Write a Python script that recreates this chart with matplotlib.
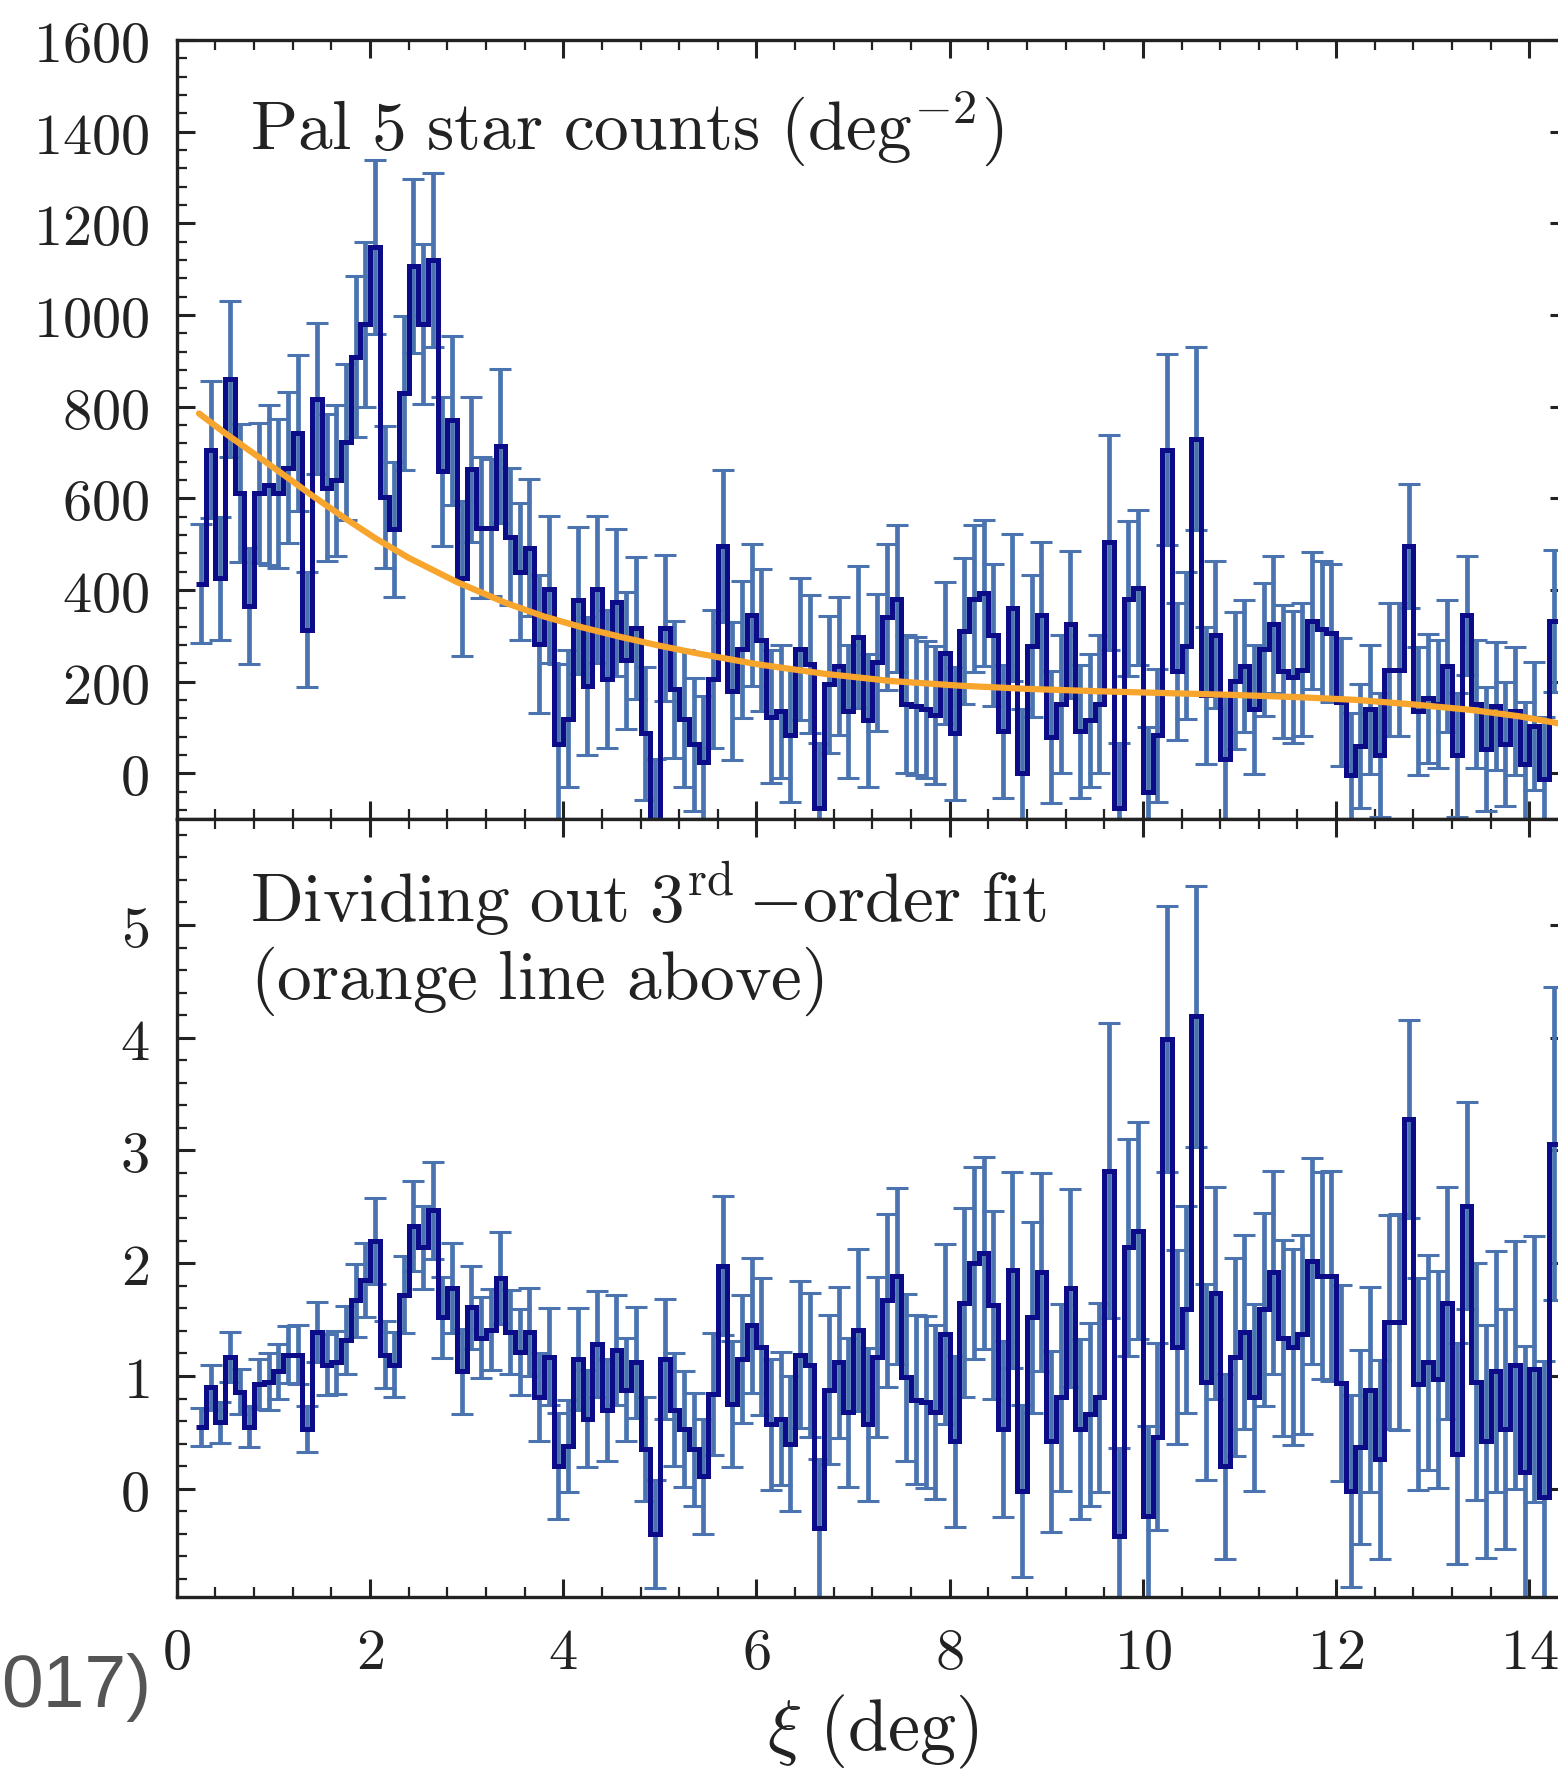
import numpy as np
import matplotlib
matplotlib.use('Agg')
import matplotlib.pyplot as plt
from matplotlib.ticker import MultipleLocator, FuncFormatter

plt.rcParams['mathtext.fontset'] = 'cm'
plt.rcParams['font.family'] = 'serif'
plt.rcParams['font.serif'] = ['DejaVu Serif']

# bins of 0.1 deg starting at xi = 0.2
bin_lo = 0.2
bin_width = 0.1

# Pal 5 star counts per bin (deg^-2)
counts = [413, 706, 425, 861, 611, 365, 611, 629, 611, 667,
          742, 313, 817, 623, 639, 722, 909, 980, 1149, 603,
          532, 829, 1107, 980, 1119, 659, 770, 425, 663, 536,
          536, 714, 516, 440, 492, 282, 401, 63, 119, 377,
          190, 401, 206, 373, 246, 317, 87, -120, 317, 183,
          119, 63, 24, 206, 496, 179, 270, 345, 290, 123,
          135, 83, 270, 238, -75, 194, 234, 135, 298, 115,
          242, 341, 381, 151, 147, 139, 127, 262, 87, 310,
          381, 393, 302, 91, 361, 0, 278, 345, 79, 151,
          325, 91, 115, 151, 504, -75, 381, 405, -40, 83,
          706, 222, 278, 730, 170, 302, 32, 202, 234, 139,
          270, 325, 222, 210, 226, 333, 314, 306, 155, -4,
          60, 139, 40, 226, 226, 496, 135, 163, 151, 234,
          40, 345, 151, 52, 147, 63, 135, 20, 103, -12,
          333]
counts_err = [130, 150, 135, 170, 150, 127, 153, 175, 163, 165,
              170, 125, 165, 160, 165, 170, 175, 180, 190, 155,
              147, 168, 190, 175, 190, 163, 185, 170, 158, 153,
              150, 167, 150, 150, 150, 150, 160, 175, 150, 160,
              150, 160, 150, 160, 150, 155, 145, 150, 160, 150,
              150, 145, 145, 150, 165, 150, 150, 155, 155, 145,
              145, 145, 155, 150, 140, 150, 150, 145, 155, 145,
              150, 160, 160, 150, 150, 150, 150, 155, 145, 160,
              160, 160, 155, 145, 160, 140, 155, 160, 145, 150,
              160, 145, 145, 150, 235, 140, 170, 170, 140, 145,
              208, 150, 160, 200, 150, 160, 140, 150, 145, 140,
              145, 150, 145, 145, 145, 150, 150, 150, 140, 135,
              135, 140, 135, 145, 145, 135, 140, 140, 140, 145,
              135, 130, 140, 135, 140, 135, 140, 135, 140, 135,
              155]

# counts divided by the 3rd-order fit
ratio = [0.55, 0.90, 0.59, 1.17, 0.86, 0.55, 0.93, 0.95, 1.04, 1.19,
         1.19, 0.53, 1.39, 1.10, 1.12, 1.32, 1.67, 1.85, 2.20, 1.19,
         1.10, 1.72, 2.33, 2.14, 2.47, 1.52, 1.78, 1.04, 1.61, 1.34,
         1.41, 1.87, 1.39, 1.21, 1.39, 0.81, 1.17, 0.20, 0.38, 1.15,
         0.62, 1.28, 0.70, 1.23, 0.88, 1.12, 0.35, -0.40, 1.15, 0.70,
         0.53, 0.35, 0.11, 0.84, 1.98, 0.75, 1.15, 1.45, 1.26, 0.57,
         0.62, 0.40, 1.19, 1.10, -0.35, 0.88, 1.12, 0.68, 1.41, 0.57,
         1.17, 1.67, 1.89, 0.99, 0.79, 0.77, 0.68, 1.37, 0.42, 1.65,
         2.00, 2.09, 1.63, 0.53, 1.94, -0.02, 1.52, 1.92, 0.42, 0.81,
         1.78, 0.53, 0.66, 0.81, 2.82, -0.42, 2.14, 2.29, -0.24, 0.46,
         3.99, 1.26, 1.59, 4.19, 0.95, 1.74, 0.20, 1.17, 1.39, 0.81,
         1.59, 1.92, 1.34, 1.26, 1.37, 2.02, 1.89, 1.89, 0.94, -0.02,
         0.37, 0.88, 0.26, 1.48, 1.48, 3.28, 0.93, 1.12, 0.97, 1.65,
         0.31, 2.51, 0.95, 0.42, 1.04, 0.53, 1.10, 0.15, 1.06, -0.07,
         3.06]
ratio_err = [0.17, 0.20, 0.18, 0.22, 0.20, 0.18, 0.22, 0.25, 0.24, 0.25,
             0.26, 0.20, 0.27, 0.27, 0.28, 0.30, 0.32, 0.33, 0.38, 0.30,
             0.29, 0.34, 0.40, 0.37, 0.43, 0.36, 0.40, 0.38, 0.37, 0.36,
             0.36, 0.41, 0.37, 0.38, 0.39, 0.39, 0.43, 0.47, 0.41, 0.45,
             0.43, 0.47, 0.45, 0.49, 0.46, 0.49, 0.46, 0.48, 0.53, 0.50,
             0.51, 0.50, 0.51, 0.54, 0.62, 0.56, 0.57, 0.60, 0.61, 0.58,
             0.59, 0.60, 0.65, 0.64, 0.61, 0.66, 0.67, 0.66, 0.72, 0.68,
             0.71, 0.77, 0.78, 0.74, 0.75, 0.76, 0.77, 0.80, 0.76, 0.84,
             0.85, 0.85, 0.83, 0.78, 0.87, 0.76, 0.85, 0.88, 0.80, 0.83,
             0.88, 0.80, 0.81, 0.84, 1.31, 0.78, 0.96, 0.96, 0.80, 0.83,
             1.18, 0.86, 0.92, 1.16, 0.87, 0.94, 0.82, 0.88, 0.86, 0.83,
             0.86, 0.90, 0.87, 0.87, 0.88, 0.91, 0.92, 0.93, 0.87, 0.85,
             0.86, 0.91, 0.88, 0.95, 0.96, 0.88, 0.94, 0.95, 0.96, 1.03,
             0.98, 0.92, 1.05, 1.03, 1.07, 1.06, 1.10, 1.12, 1.18, 1.20,
             1.39]

# orange 3rd-order fit line
fit_xi = [0.23, 0.5, 0.8, 1.1, 1.4, 1.75, 2.06, 2.4, 2.9, 3.4, 3.8, 4.2,
          4.6, 5.0, 5.4, 6.0, 6.7, 7.4, 8.1, 8.8, 9.5, 10.2, 10.9, 11.6,
          12.2, 12.8, 13.4, 13.9, 14.4]
fit_counts = [785, 742, 697, 652, 606, 555, 512, 470, 417, 372, 342, 318,
              297, 278, 261, 238, 217, 201, 191, 184, 179, 175, 171, 166,
              160, 150, 138, 124, 105]

n = len(counts)
assert len(counts_err) == n and len(ratio) == n and len(ratio_err) == n
edges = bin_lo + bin_width * np.arange(n + 1)
centers = edges[:-1] + bin_width / 2

W, H = 1558, 1773
fig = plt.figure(figsize=(W / 100, H / 100), dpi=100)


def box(x0, y0, x1, y1):
    # pixel box measured from the top-left corner
    return [x0 / W, 1 - y1 / H, (x1 - x0) / W, (y1 - y0) / H]


ax1 = fig.add_axes(box(176.8, 40, 1568, 819))
ax2 = fig.add_axes(box(176.8, 819, 1568, 1597))

navy = '#0c0c88'
ebar = '#4a73b0'
orange = '#f8a52e'

for ax, v, e in ((ax1, counts, counts_err), (ax2, ratio, ratio_err)):
    ax.errorbar(centers, v, yerr=e, fmt='none', ecolor=ebar,
                elinewidth=3.4, capsize=8, capthick=2.2, zorder=2)
    ax.stairs(v, edges, baseline=None, color=navy, lw=3.6, zorder=3)
ax1.plot(fit_xi, fit_counts, color=orange, lw=4.5, zorder=4,
         solid_capstyle='round')

ax1.set_xlim(0, 14.4)
ax2.set_xlim(0, 14.4)
ax1.set_ylim(-100, 1600)
ax2.set_ylim(-0.96, 5.94)

fmt = FuncFormatter(lambda v, p: '$%d$' % round(v))
for ax in (ax1, ax2):
    ax.xaxis.set_major_locator(MultipleLocator(2))
    ax.xaxis.set_minor_locator(MultipleLocator(0.4))
    ax.xaxis.set_major_formatter(fmt)
    ax.yaxis.set_major_formatter(fmt)
    ax.tick_params(which='both', direction='in', top=True, right=True,
                   labelsize=42, pad=20, color='#222222', labelcolor='#222222')
    ax.tick_params(which='major', length=13, width=2.2)
    ax.tick_params(which='minor', length=7, width=1.6)
    for s in ax.spines.values():
        s.set_linewidth(2.4)
        s.set_color('#222222')
ax1.yaxis.set_major_locator(MultipleLocator(200))
ax1.yaxis.set_minor_locator(MultipleLocator(40))
ax2.yaxis.set_major_locator(MultipleLocator(1))
ax2.yaxis.set_minor_locator(MultipleLocator(0.2))
ax1.tick_params(labelbottom=False)

txt = dict(fontsize=50, color='#222222', va='baseline', ha='left')
fig.text(250 / W, 1 - 150 / H,
         r'$\mathrm{Pal\ 5\ star\ counts\ (deg}^{-2}\mathrm{)}$', **txt)
fig.text(250 / W, 1 - 922 / H,
         r'$\mathrm{Dividing\ out\ 3}^{\mathrm{rd}}\,{-}\mathrm{order\ fit}$',
         **txt)
fig.text(250 / W, 1 - 999 / H, r'$\mathrm{(orange\ line\ above)}$', **txt)
fig.text(873 / W, 1 - 1750 / H, r'$\xi\ \mathrm{(deg)}$', fontsize=52,
         color='#222222', va='baseline', ha='center')

fig.text(1 / W, 1 - 1707 / H, '017)', fontsize=54, color='#555555',
         family='Liberation Sans', ha='left', va='baseline')

fig.savefig('out.png', dpi=100)
